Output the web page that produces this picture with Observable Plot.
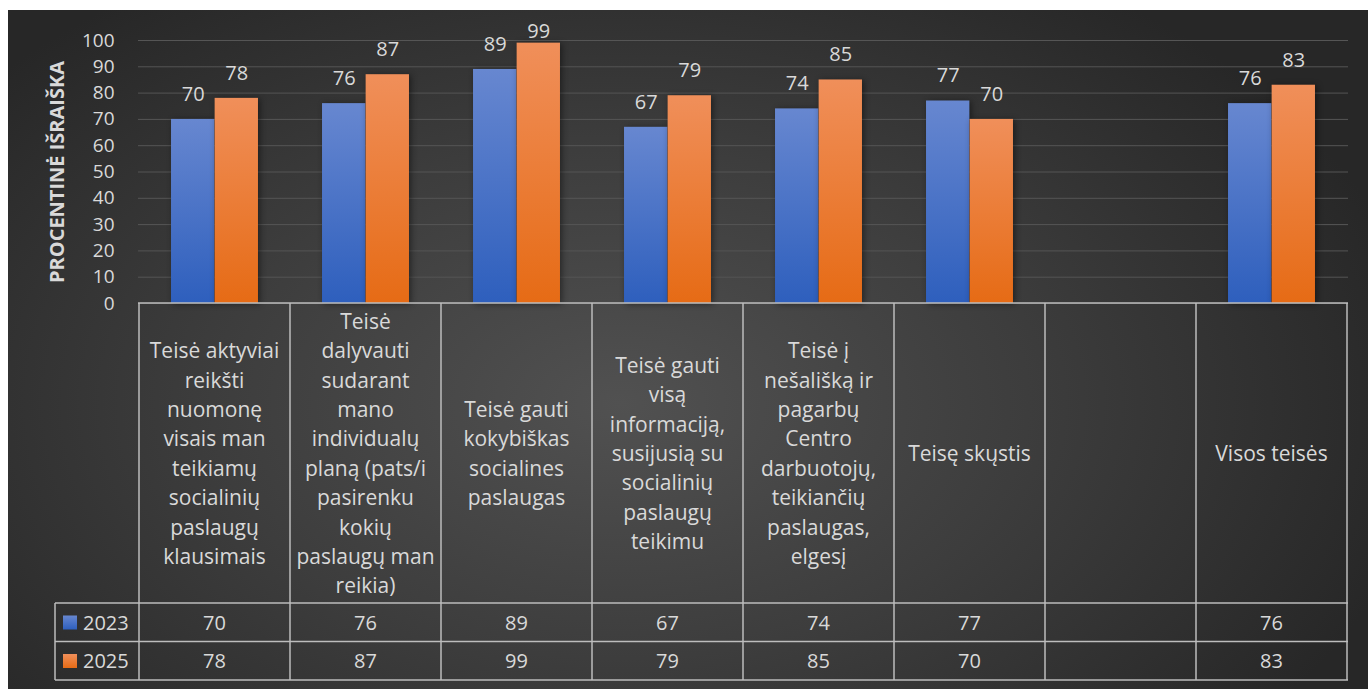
<!DOCTYPE html>
<html>
<head>
<meta charset="utf-8">
<script src="https://cdn.jsdelivr.net/npm/d3@7"></script>
<script src="https://cdn.jsdelivr.net/npm/@observablehq/plot@0.6"></script>
<style>
  html, body { margin: 0; padding: 0; background: #ffffff; }
  #chart {
    position: absolute; left: 8px; top: 10px; width: 1360px; height: 679px;
    background: radial-gradient(ellipse 60% 75% at 45% 58%, #515151 0%, #3d3d3d 50%, #272727 100%);
    font-family: "Open Sans", sans-serif;
  }
</style>
</head>
<body>
<div id="chart"></div>
<script>
// ---- data ----
const categories = [
  "Teisė aktyviai\nreikšti\nnuomonę\nvisais man\nteikiamų\nsocialinių\npaslaugų\nklausimais",
  "Teisė\ndalyvauti\nsudarant\nmano\nindividualų\nplaną (pats/i\npasirenku\nkokių\npaslaugų man\nreikia)",
  "Teisė gauti\nkokybiškas\nsocialines\npaslaugas",
  "Teisė gauti\nvisą\ninformaciją,\nsusijusią su\nsocialinių\npaslaugų\nteikimu",
  "Teisė į\nnešališką ir\npagarbų\nCentro\ndarbuotojų,\nteikiančių\npaslaugas,\nelgesį",
  "Teisę skųstis",
  "",
  "Visos teisės"
];
const seriesNames = ["2023", "2025"];
const values2023 = [70, 76, 89, 67, 74, 77, null, 76];
const values2025 = [78, 87, 99, 79, 85, 70, null, 83];
const yTicks = [0, 10, 20, 30, 40, 50, 60, 70, 80, 90, 100];
const yTitle = "PROCENTINĖ IŠRAIŠKA";

// ---- table built from arrays ----
const seriesValues = [values2023, values2025];
const rows = seriesNames.flatMap((s, si) =>
  categories.map((c, i) => ({cat: c, series: s, value: seriesValues[si][i]}))
);
const rows2023 = rows.filter(d => d.series === "2023" && d.value != null);
const rows2025 = rows.filter(d => d.series === "2025" && d.value != null);

const W = 1360, H = 679;
const mL = 130, mR = 20, mT = 30, mB = 386;
const bw = (W - mL - mR) / categories.length;
const barW = 43.6;
const sideInset = bw / 2 - barW;

const textColor = "#d9d9d9";
const lineColor = "#bdbdbd";

const defsMark = () => {
  const svg = d3.create("svg:g");
  const defs = svg.append("defs");
  const mk = (id, top, bottom) => {
    const g = defs.append("linearGradient").attr("id", id)
      .attr("x1", 0).attr("y1", 0).attr("x2", 0).attr("y2", 1);
    g.append("stop").attr("offset", "0%").attr("stop-color", top);
    g.append("stop").attr("offset", "100%").attr("stop-color", bottom);
  };
  mk("gBlue", "#6787d0", "#2e5fbd");
  mk("gOrange", "#f08f5a", "#e66b15");
  return svg.node();
};

// keep labels inside the chart area (like the original, which pushes "99" down)
const clampLabels = (index, scales, values, dims, context, next) => {
  const minY = dims.marginTop + 16;
  const y = Float64Array.from(values.y, v => Math.max(v, minY));
  return next(index, scales, {...values, y}, dims, context);
};

const tableMark = (index, scales, values, dims) => {
  const x = scales.x, y = scales.y;
  const g = d3.create("svg:g").attr("text-anchor", "start");
  const y0 = y(0);
  const hB = y0 + 300, r1 = hB + 38.5, r2 = r1 + 38.5;
  const left = dims.marginLeft, right = dims.width - dims.marginRight;
  const legL = left - 83;
  const band = x.bandwidth ? x.bandwidth() : bw;
  const line = (x1, y1, x2, y2) => g.append("line")
    .attr("x1", x1).attr("y1", y1).attr("x2", x2).attr("y2", y2)
    .attr("stroke", lineColor).attr("stroke-width", 1.5);
  line(left, y0, right, y0);
  line(legL, hB, right, hB);
  line(legL, r1, right, r1);
  line(legL, r2, right, r2);
  line(legL, hB, legL, r2);
  categories.forEach((c, i) => {
    const xs = x(c);
    line(xs, y0, xs, r2);
    if (i === categories.length - 1) line(xs + band, y0, xs + band, r2);
    const lines = c.split("\n");
    const mid = (y0 + hB) / 2;
    lines.forEach((t, j) => {
      g.append("text").attr("x", xs + band / 2)
        .attr("y", mid + (j - (lines.length - 1) / 2) * 29.4)
        .attr("text-anchor", "middle").attr("dominant-baseline", "central")
        .attr("fill", textColor).attr("font-size", 21).text(t);
    });
    seriesValues.forEach((vals, si) => {
      const v = vals[i];
      if (v == null) return;
      const top = si === 0 ? hB : r1;
      g.append("text").attr("x", xs + band / 2).attr("y", top + 19.25)
        .attr("text-anchor", "middle").attr("dominant-baseline", "central")
        .attr("fill", textColor).attr("font-size", 20).text(v);
    });
  });
  seriesNames.forEach((s, si) => {
    const top = si === 0 ? hB : r1;
    g.append("rect").attr("x", legL + 8).attr("y", top + 12.5).attr("width", 14).attr("height", 14)
      .attr("fill", si === 0 ? "url(#gBlue)" : "url(#gOrange)");
    g.append("text").attr("x", legL + 28).attr("y", top + 19.25)
      .attr("text-anchor", "start").attr("dominant-baseline", "central")
      .attr("fill", textColor).attr("font-size", 20).text(s);
  });
  return g.node();
};

const chart = Plot.plot({
  width: W, height: H,
  marginLeft: mL, marginRight: mR, marginTop: mT, marginBottom: mB,
  style: {background: "transparent", color: textColor, fontFamily: "'Open Sans', sans-serif", fontSize: "19px", overflow: "visible"},
  x: {type: "band", domain: categories, padding: 0, axis: null},
  y: {domain: [0, 100], axis: null},
  marks: [
    defsMark,
    Plot.gridY(yTicks, {stroke: "#555555", strokeOpacity: 1, strokeWidth: 1}),
    Plot.axisY(yTicks, {tickSize: 0, tickPadding: 24, fontSize: 19, label: null, fill: textColor}),
    Plot.text([yTitle], {frameAnchor: "left", textAnchor: "middle", rotate: -90, dx: -81, fontSize: 20, fontWeight: "bold", fill: textColor}),
    Plot.barY(rows2023, {x: "cat", y: "value", fill: "url(#gBlue)", insetLeft: sideInset, insetRight: bw / 2,
      imageFilter: "drop-shadow(2px 1px 3px rgba(0,0,0,0.45))"}),
    Plot.barY(rows2025, {x: "cat", y: "value", fill: "url(#gOrange)", insetLeft: bw / 2, insetRight: sideInset,
      imageFilter: "drop-shadow(2px 1px 3px rgba(0,0,0,0.45))"}),
    Plot.text(rows2023, {x: "cat", y: "value", text: d => String(d.value), dx: -barW / 2, dy: -25, fontSize: 20, fill: textColor, render: clampLabels}),
    Plot.text(rows2025, {x: "cat", y: "value", text: d => String(d.value), dx: barW / 2, dy: -25, fontSize: 20, fill: textColor, render: clampLabels}),
    tableMark
  ]
});
document.getElementById("chart").appendChild(chart);
</script>
</body>
</html>
